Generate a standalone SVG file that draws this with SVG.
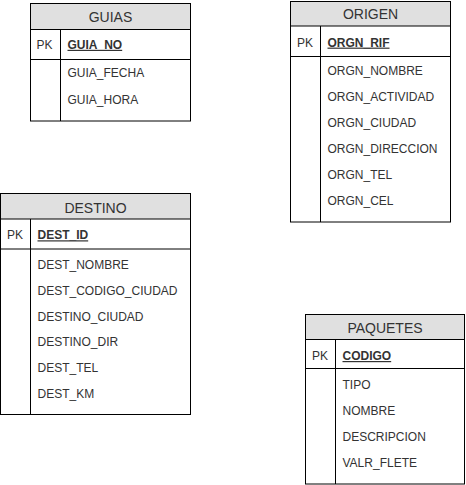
<svg xmlns="http://www.w3.org/2000/svg" width="466" height="485" viewBox="0 0 466 485">
<style>
.box{fill:#ffffff;stroke:#000000;stroke-width:1}
.head{fill:#e0e0e0;stroke:#000000;stroke-width:1}
.ln{stroke:#000000;stroke-width:1;fill:none}
text{font-family:"Liberation Sans",Arial,Helvetica,sans-serif;fill:#333333}
.title{font-size:14px;text-anchor:middle}
.pk{font-size:12px}
.key{font-size:12px;font-weight:bold;text-decoration:underline}
.fld{font-size:12px}
</style>
<rect width="466" height="485" fill="#ffffff"/>
<g id="connectors"></g>
<g id="guias">
<rect class="box" x="30.5" y="3.5" width="160" height="117.5"/>
<rect class="head" x="30.5" y="3.5" width="160" height="26"/>
<line class="ln" x1="30.5" y1="59.5" x2="190.5" y2="59.5"/>
<line class="ln" x1="60.5" y1="29.5" x2="60.5" y2="121"/>
<text class="title" x="110.5" y="21.5">GUIAS</text>
<text class="pk" x="36.5" y="48.8">PK</text>
<text class="key" x="67.5" y="48.8">GUIA_NO</text>
<text class="fld" x="67.5" y="77.3">GUIA_FECHA</text>
<text class="fld" x="67.5" y="103.5">GUIA_HORA</text>
</g>
<g id="origen">
<rect class="box" x="290.5" y="1.5" width="160" height="220.5"/>
<rect class="head" x="290.5" y="1.5" width="160" height="24.5"/>
<line class="ln" x1="290.5" y1="56.5" x2="450.5" y2="56.5"/>
<line class="ln" x1="320.5" y1="26" x2="320.5" y2="222"/>
<text class="title" x="370.5" y="19">ORIGEN</text>
<text class="pk" x="297" y="46.6">PK</text>
<text class="key" x="327.5" y="46.6">ORGN_RIF</text>
<text class="fld" x="327.5" y="75.3">ORGN_NOMBRE</text>
<text class="fld" x="327.5" y="101.3">ORGN_ACTIVIDAD</text>
<text class="fld" x="327.5" y="127.3">ORGN_CIUDAD</text>
<text class="fld" x="327.5" y="153.3">ORGN_DIRECCION</text>
<text class="fld" x="327.5" y="179.3">ORGN_TEL</text>
<text class="fld" x="327.5" y="205.3">ORGN_CEL</text>
</g>
<g id="destino">
<rect class="box" x="0.5" y="193.5" width="190" height="221"/>
<rect class="head" x="0.5" y="193.5" width="190" height="25.5"/>
<line class="ln" x1="0.5" y1="249" x2="190.5" y2="249"/>
<line class="ln" x1="30.5" y1="219" x2="30.5" y2="414.5"/>
<text class="title" x="95.5" y="213.3">DESTINO</text>
<text class="pk" x="7" y="239.3">PK</text>
<text class="key" x="37.5" y="239.3">DEST_ID</text>
<text class="fld" x="37.5" y="269.3">DEST_NOMBRE</text>
<text class="fld" x="37.5" y="295.3">DEST_CODIGO_CIUDAD</text>
<text class="fld" x="37.5" y="320.8">DESTINO_CIUDAD</text>
<text class="fld" x="37.5" y="346.3">DESTINO_DIR</text>
<text class="fld" x="37.5" y="372.3">DEST_TEL</text>
<text class="fld" x="37.5" y="398.3">DEST_KM</text>
</g>
<g id="paquetes">
<rect class="box" x="305.5" y="314.5" width="159" height="169.5"/>
<rect class="head" x="305.5" y="314.5" width="159" height="25"/>
<line class="ln" x1="305.5" y1="368.5" x2="464.5" y2="368.5"/>
<line class="ln" x1="335.5" y1="339.5" x2="335.5" y2="484"/>
<text class="title" x="385" y="333.3">PAQUETES</text>
<text class="pk" x="312" y="360">PK</text>
<text class="key" x="342.5" y="360">CODIGO</text>
<text class="fld" x="342.5" y="388.8">TIPO</text>
<text class="fld" x="342.5" y="414.8">NOMBRE</text>
<text class="fld" x="342.5" y="440.8">DESCRIPCION</text>
<text class="fld" x="342.5" y="466.6">VALR_FLETE</text>
</g>
</svg>
